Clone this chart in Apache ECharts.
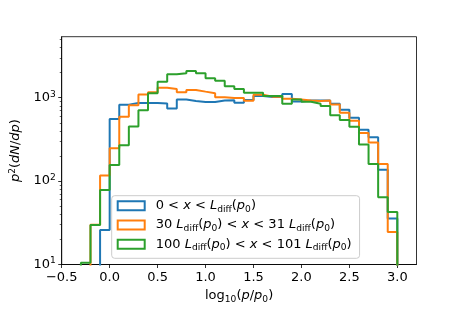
<!DOCTYPE html>
<html><head><meta charset="utf-8">
<script src="https://cdn.jsdelivr.net/npm/echarts@6/dist/echarts.min.js"></script>
<style>html,body{margin:0;padding:0;background:#fff}#c{width:463px;height:309px}</style>
</head><body><div id="c"></div>
<script>
// bin edges of log10(p/p0)
const binEdges = [-0.3,-0.2,-0.1,0.0,0.1,0.2,0.3,0.4,0.5,0.6,0.7,0.8,0.9,1.0,1.1,1.2,1.3,1.4,1.5,1.6,1.7,1.8,1.9,2.0,2.1,2.2,2.3,2.4,2.5,2.6,2.7,2.8,2.9,3.0];
// one value per bin (null = empty bin)
const blueValues   = [null,null,26,555,826,864,865,865,850,741,952,912,888,888,927,930,871,940,1045,1020,1020,1111,902,927,927,927,848,715,576,412,336,137,35.6];
const orangeValues = [null,30,117,247,592,810,1090,1163,1318,1271,1163,1239,1183,1132,1016,989,989,920,1082,1030,1030,971,952,927,912,927,830,660,530,377,290,160,24.6];
const greenValues  = [10.5,29.7,78,156,270,452,708,1132,1549,1907,1960,2085,1960,1713,1592,1368,1271,1150,1150,1045,1045,848,950,895,848,797,618,540,450,275,160,64,42.6];
const seriesNames = ['s0','s30','s100'];
const legendLabels = [
  '{r|0 < }{i|x}{r| < }{i|L}{sub|diff}{r|(}{i|p}{sub|0}{r|)}',
  '{r|30 }{i|L}{sub|diff}{r|(}{i|p}{sub|0}{r|) < }{i|x}{r| < 31 }{i|L}{sub|diff}{r|(}{i|p}{sub|0}{r|)}',
  '{r|100 }{i|L}{sub|diff}{r|(}{i|p}{sub|0}{r|) < }{i|x}{r| < 101 }{i|L}{sub|diff}{r|(}{i|p}{sub|0}{r|)}'
];
const colors = ['#1f77b4','#ff7f0e','#2ca02c'];
const xTicks = [-0.5,0,0.5,1,1.5,2,2.5,3];
const yTicks = [10,100,1000];
const yMinorTicks = [20,30,40,50,60,70,80,90,200,300,400,500,600,700,800,900,2000,3000,4000,5000];
const yMin = 10, yMax = 5390, xMin = -0.5, xMax = 3.2;

const FONT = 'DejaVu Sans';
const FS = 13;
const FSS = 9.1;
const FLOOR = 1; // below axis -> outline drops off the bottom

function stepData(vals){
  const pts = []; let last = -1;
  for (let i = 0; i < vals.length; i++) {
    if (vals[i] == null) continue;
    if (last < 0) pts.push([binEdges[i], FLOOR]);
    pts.push([binEdges[i], vals[i]]);
    last = i;
  }
  pts.push([binEdges[last+1], vals[last]]);
  pts.push([binEdges[last+1], FLOOR]);
  return pts;
}

const rich = {
  r: {fontFamily: FONT, fontSize: FS, color: '#000', lineHeight: 16},
  i: {fontFamily: FONT, fontSize: FS, fontStyle: 'italic', color: '#000', lineHeight: 16},
  sub: {fontFamily: FONT, fontSize: FSS, color: '#000', lineHeight: 6, verticalAlign: 'bottom'},
  sup: {fontFamily: FONT, fontSize: FSS, color: '#000', lineHeight: 7, verticalAlign: 'top'}
};

const chart = echarts.init(document.getElementById('c'), null, {renderer: 'canvas'});
const allVals = [blueValues, orangeValues, greenValues];
chart.setOption({
  animation: false,
  backgroundColor: '#fff',
  grid: {left: 57.3, right: 46.5, top: 36.7, bottom: 39.7, show: true, borderColor: '#000', borderWidth: 0.8, backgroundColor: 'transparent'},
  xAxis: {
    type: 'value', min: xMin, max: xMax,
    axisLine: {show: true, onZero: false, lineStyle: {color: '#000', width: 0.8}},
    axisTick: {show: true, length: 3.5, lineStyle: {color: '#000', width: 0.8}, customValues: xTicks},
    axisLabel: {customValues: xTicks, margin: 6.5, color: '#000', fontFamily: FONT, fontSize: FS,
      formatter: v => (v < 0 ? '\u2212' : '') + Math.abs(v).toFixed(1)},
    splitLine: {show: false},
    name: '{r|log}{sub|10}{r|(}{i|p}{r|/}{i|p}{sub|0}{r|)}',
    nameLocation: 'middle', nameGap: 23.5,
    nameTextStyle: {rich: rich}
  },
  yAxis: [{
    type: 'log', logBase: 10, min: yMin, max: yMax,
    axisLine: {show: true, onZero: false, lineStyle: {color: '#000', width: 0.8}},
    axisTick: {show: true, length: 3.5, lineStyle: {color: '#000', width: 0.8}, customValues: yTicks},
    axisLabel: {customValues: yTicks, margin: 6, color: '#000', rich: {
        b: {fontFamily: FONT, fontSize: FS, color: '#000', lineHeight: 16},
        s: {fontFamily: FONT, fontSize: FSS, color: '#000', lineHeight: 7, verticalAlign: 'top'}
      },
      formatter: v => '{b|10}{s|' + Math.round(Math.log10(v)) + '}'},
    splitLine: {show: false},
    name: '{i|p}{sup|2}{r|(}{i|dN}{r|/}{i|dp}{r|)}',
    nameLocation: 'middle', nameGap: 35.5, nameRotate: 90,
    nameTextStyle: {rich: rich}
  }, {
    type: 'log', logBase: 10, min: yMin, max: yMax, position: 'left',
    axisLine: {show: false, onZero: false}, axisLabel: {show: false}, splitLine: {show: false},
    axisTick: {show: true, length: 2, lineStyle: {color: '#000', width: 0.6}, customValues: yMinorTicks}
  }],
  legend: {
    orient: 'vertical', left: 111.7, top: 195.7,
    padding: [3.5, 8, 6, 5], itemGap: 4.8, itemWidth: 27, itemHeight: 9,
    backgroundColor: 'rgba(255,255,255,0.8)', borderColor: '#cccccc', borderWidth: 1, borderRadius: 3,
    data: seriesNames.map((n, k) => ({name: n, icon: 'rect', itemStyle: {color: 'transparent', borderColor: colors[k], borderWidth: 2}})),
    formatter: n => legendLabels[seriesNames.indexOf(n)],
    textStyle: {rich: rich, padding: [0, 0, 0, 6]}
  },
  series: seriesNames.map((n, k) => ({
    name: n, type: 'line', step: 'end', yAxisIndex: 0,
    data: stepData(allVals[k]), showSymbol: false, symbol: 'none',
    lineStyle: {color: colors[k], width: 2}, itemStyle: {color: colors[k]},
    clip: true, z: 2 + k
  }))
});
</script></body></html>
